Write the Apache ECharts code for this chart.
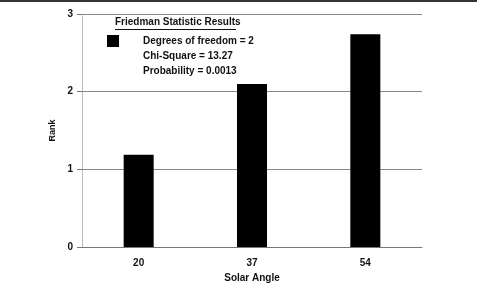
<!DOCTYPE html>
<html>
<head>
<meta charset="utf-8">
<style>
  html, body { margin: 0; padding: 0; background: #ffffff; }
  #chart { width: 477px; height: 288px; }
</style>
<script src="https://cdn.jsdelivr.net/npm/echarts@6/dist/echarts.min.js"></script>
</head>
<body>
<div id="chart"></div>
<script>
// values
const solarAngles = ['20', '37', '54'];
const meanRanks = [1.19, 2.1, 2.74];
const rankTicks = [0, 1, 2, 3];
const statsTitle = 'Friedman Statistic Results';
const statsLines = ['Degrees of freedom = 2', 'Chi-Square = 13.27', 'Probability = 0.0013'];

const FONT = 'Liberation Sans, Arial, sans-serif';

const chart = echarts.init(document.getElementById('chart'), null, { renderer: 'canvas' });

chart.setOption({
  animation: false,
  backgroundColor: '#ffffff',
  textStyle: { fontFamily: FONT },
  grid: { left: 82, right: 55, top: 14, bottom: 40 },
  legend: {
    left: 107,
    top: 35,
    padding: 0,
    itemWidth: 12,
    itemHeight: 12,
    icon: 'rect',
    data: [statsLines[0]],
    textStyle: {
      fontFamily: FONT, fontWeight: 'bold', fontSize: 10, color: '#111',
      padding: [0, 0, 0, 19]
    }
  },
  xAxis: {
    type: 'category',
    data: solarAngles,
    name: 'Solar Angle',
    nameLocation: 'middle',
    nameGap: 24,
    nameTextStyle: { fontFamily: FONT, fontWeight: 'bold', fontSize: 10, color: '#111' },
    axisLine: { lineStyle: { color: '#777', width: 1 } },
    axisTick: { alignWithLabel: true, length: 4, lineStyle: { color: '#777' } },
    axisLabel: { fontFamily: FONT, fontWeight: 'bold', fontSize: 10, color: '#111', margin: 11 }
  },
  yAxis: {
    type: 'value',
    min: rankTicks[0],
    max: rankTicks[rankTicks.length - 1],
    interval: 1,
    name: 'Rank',
    nameLocation: 'middle',
    nameGap: 16,
    nameTextStyle: { fontFamily: FONT, fontWeight: 'bold', fontSize: 9, color: '#111' },
    axisLine: { show: true, lineStyle: { color: '#aaa', type: 'dotted', width: 1 } },
    axisTick: { show: true, length: 5, lineStyle: { color: '#777' } },
    axisLabel: { fontFamily: FONT, fontWeight: 'bold', fontSize: 10, color: '#111', margin: 9 },
    splitLine: { lineStyle: { color: '#888', width: 1 } }
  },
  series: [{
    name: statsLines[0],
    type: 'bar',
    data: meanRanks,
    barWidth: 30,
    itemStyle: { color: '#000000' }
  }],
  graphic: [
    { type: 'rect', shape: { x: 0, y: 0, width: 477, height: 2 }, style: { fill: '#333' } },
    {
      type: 'text', left: 115, top: 17,
      style: { text: statsTitle, font: 'bold 10px ' + FONT, fill: '#111' }
    },
    { type: 'rect', z: 10, shape: { x: 115, y: 29, width: 121, height: 1 }, style: { fill: '#111' } },
    {
      type: 'text', left: 143, top: 51,
      style: { text: statsLines[1], font: 'bold 10px ' + FONT, fill: '#111' }
    },
    {
      type: 'text', left: 143, top: 66,
      style: { text: statsLines[2], font: 'bold 10px ' + FONT, fill: '#111' }
    }
  ]
});
</script>
</body>
</html>
